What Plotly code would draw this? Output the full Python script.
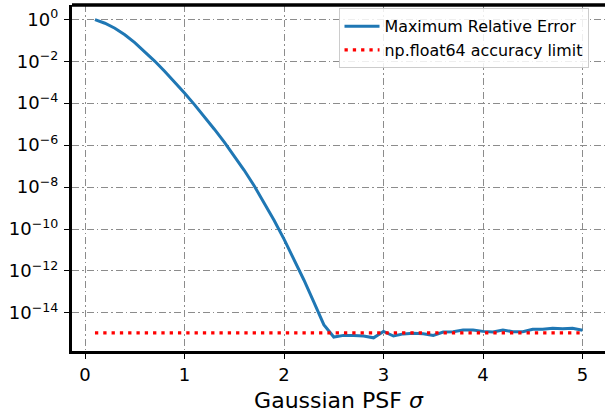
import plotly.graph_objects as go

sigma = [0.1, 0.2, 0.3, 0.4, 0.5, 0.6, 0.7, 0.8, 0.9, 1.0,
         1.1, 1.2, 1.3, 1.4, 1.5, 1.6, 1.7, 1.8, 1.9, 2.0,
         2.1, 2.2, 2.3, 2.4, 2.5, 2.6, 2.7, 2.8, 2.9, 3.0,
         3.1, 3.2, 3.3, 3.4, 3.5, 3.6, 3.7, 3.8, 3.9, 4.0,
         4.1, 4.2, 4.3, 4.4, 4.5, 4.6, 4.7, 4.8, 4.9, 5.0]
max_rel_error = [9.55e-1, 6.46e-1, 3.72e-1, 1.82e-1, 7.76e-2, 2.95e-2, 1.02e-2, 3.31e-3, 1.02e-3, 3.02e-4,
                 8.51e-5, 2.29e-5, 5.75e-6, 1.38e-6, 3.09e-7, 6.31e-8, 1.15e-8, 1.86e-9, 2.63e-10, 3.31e-11,
                 3.72e-12, 3.72e-13, 3.31e-14, 2.75e-15, 7.1e-16, 8.5e-16, 8.5e-16, 7.9e-16, 6.5e-16, 1.32e-15,
                 7.9e-16, 1.0e-15, 1.07e-15, 1.02e-15, 8.5e-16, 1.23e-15, 1.26e-15, 1.55e-15, 1.55e-15, 1.32e-15,
                 1.23e-15, 1.55e-15, 1.26e-15, 1.26e-15, 1.66e-15, 1.66e-15, 1.86e-15, 1.74e-15, 1.86e-15, 1.48e-15]
accuracy_limit = 1.11e-15
limit_x = [0.1, 5.0]
limit_y = [accuracy_limit, accuracy_limit]

x_ticks = [0, 1, 2, 3, 4, 5]
y_tickvals = [1e0, 1e-2, 1e-4, 1e-6, 1e-8, 1e-10, 1e-12, 1e-14]
y_ticktext = ["10<sup>0</sup>", "10<sup>−2</sup>", "10<sup>−4</sup>", "10<sup>−6</sup>",
              "10<sup>−8</sup>", "10<sup>−10</sup>", "10<sup>−12</sup>", "10<sup>−14</sup>"]

FONT = "DejaVu Sans"

fig = go.Figure()
fig.add_trace(go.Scatter(x=sigma, y=max_rel_error, mode="lines",
                         name="Maximum Relative Error",
                         line=dict(color="#1f77b4", width=3)))
fig.add_trace(go.Scatter(x=limit_x, y=limit_y, mode="lines",
                         name="np.float64 accuracy limit",
                         line=dict(color="red", width=3.3, dash="3.3px,5px")))

grid = dict(showgrid=True, gridcolor="#8c8c8c", gridwidth=1.3, griddash="7px,3px,1.5px,3px")

fig.update_layout(
    width=605, height=413,
    margin=dict(l=72, r=0, t=5, b=62, autoexpand=False),
    paper_bgcolor="white", plot_bgcolor="white",
    font=dict(family=FONT, color="black", size=18),
    showlegend=True,
    legend=dict(x=0.5, y=0.99, xanchor="left", yanchor="top",
                bgcolor="rgba(255,255,255,0.85)", bordercolor="#cccccc", borderwidth=1,
                itemwidth=35, tracegroupgap=0,
                font=dict(family=FONT, size=15.9)),
    xaxis=dict(range=[-0.1307, 5.226], tickvals=x_ticks, ticks="outside", ticklen=5,
               tickwidth=1.3, tickcolor="black", showline=True, linecolor="black", linewidth=3.3,
               mirror=False, zeroline=False, automargin=False,
               title=dict(text="Gaussian PSF <i>σ</i>", font=dict(family=FONT, size=22), standoff=12),
               **grid),
    yaxis=dict(type="log", range=[-15.815, 0.68], tickvals=y_tickvals, ticktext=y_ticktext,
               ticks="outside", ticklen=5, tickwidth=1.3, tickcolor="black", ticklabelstandoff=2,
               showline=True, linecolor="black", linewidth=3.3, zeroline=False, automargin=False,
               **grid),
)
# top spine
fig.add_shape(type="line", xref="paper", yref="paper", x0=0, x1=1, y0=1, y1=1,
              line=dict(color="black", width=3.3))

fig.write_html("out.html", config={"displayModeBar": False},
               post_script="document.body.style.margin='0px';document.body.style.padding='0px';"
                           "document.body.style.overflow='hidden';")
